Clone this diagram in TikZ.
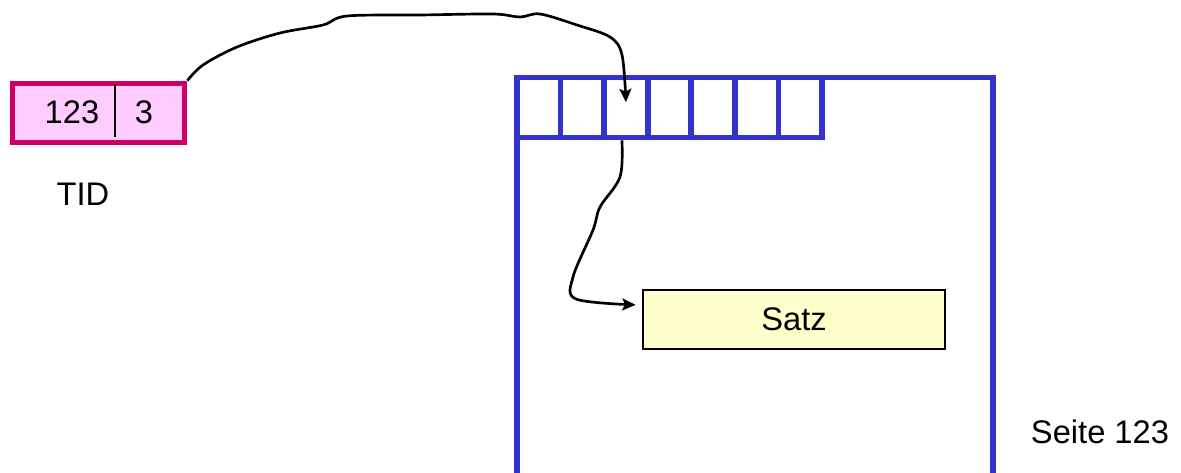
\documentclass[tikz,border=0pt]{standalone}
\usepackage{fontspec}
\setmainfont{Liberation Sans}
\usetikzlibrary{arrows.meta}
\definecolor{pageblue}{HTML}{3333CC}
\definecolor{tidmag}{HTML}{CC0066}
\definecolor{tidfill}{HTML}{FFCCFF}
\definecolor{satzfill}{HTML}{FFFFCC}
\tikzset{
  lbl/.style={font=\fontsize{24.5pt}{28pt}\selectfont, inner sep=0pt},
  tidbox/.style={draw=tidmag, fill=tidfill, line width=4.3pt, minimum width=129pt, minimum height=44.25pt, inner sep=0pt},
  cellbox/.style={draw=pageblue, line width=4.3pt, minimum width=32.68pt, minimum height=45pt, inner sep=0pt},
  satzbox/.style={draw=black, fill=satzfill, line width=1pt, minimum width=226.5pt, minimum height=44.25pt, inner sep=0pt, font=\fontsize{24.5pt}{28pt}\selectfont},
  link/.style={draw=black, line width=2pt, -{Stealth[length=10pt,width=9pt,inset=2pt]}},
  pageline/.style={draw=pageblue, line width=4.3pt}
}
\begin{document}
\begin{tikzpicture}[x=0.75pt,y=-0.75pt]
\useasboundingbox (0,0) rectangle (1181,472);
% TID
\node[tidbox] (tid) at (98.5,113) {};
\node[lbl] (n123) at (72,112) {123};
\node[lbl] (n3) at (144,112) {3};
\draw[line width=1.8pt] (115,84) -- (115,137);
\node[lbl] (tidlbl) at (83,194) {TID};
% page
\draw[pageline] (517,476) -- (517,77.5) -- (993,77.5) -- (993,476);
\foreach \i in {1,...,7}{
  \node[cellbox] (cell\i) at ({517+(\i-0.5)*43.57},107.5) {};
}
% Satz
\node[satzbox] (satz) at (794,319.5) {Satz};
\node[lbl] (seite) at (1100,432) {Seite 123};
% connectors
\draw[link] plot[smooth, tension=0.55] coordinates {(tid.north east) (203,65) (237,47) (280,33) (323,25) (347,16) (420,15) (493,14) (520,17) (540,14) (577,25) (610,37) (622,55) ([yshift=4pt]cell3.center)};
\draw[link] plot[smooth, tension=0.55] coordinates {([xshift=-3pt]cell3.south) (620,177) (600,207) (593,230) (573,277) (576,299) ([xshift=-5pt,yshift=11pt]satz.west)};
\end{tikzpicture}
\end{document}
